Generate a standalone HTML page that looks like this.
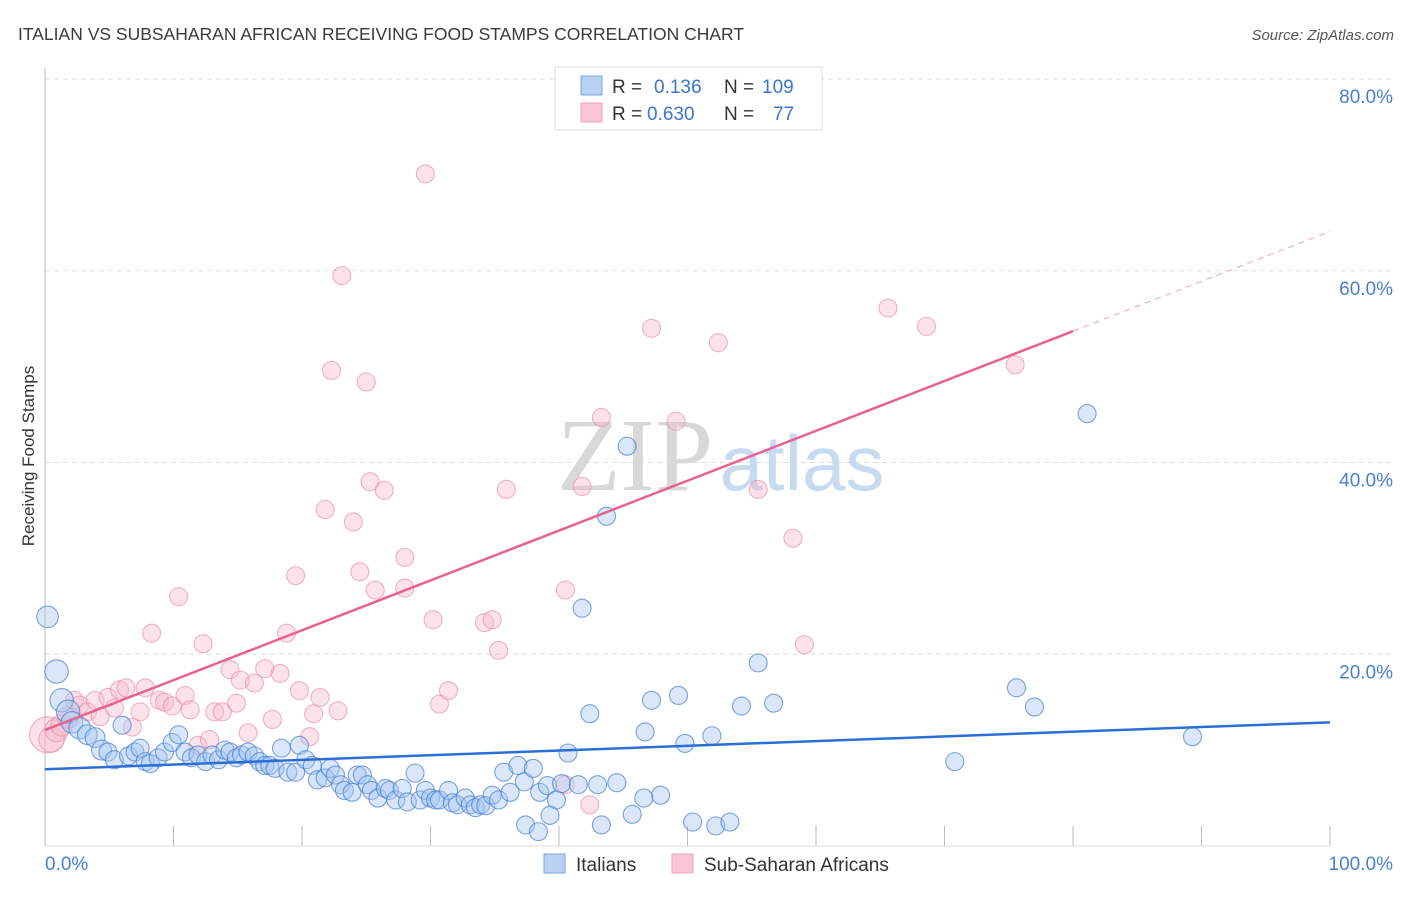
<!DOCTYPE html>
<html><head><meta charset="utf-8"><style>
body{margin:0;background:#fff;font-family:"Liberation Sans",sans-serif;}
svg text{font-family:"Liberation Sans",sans-serif;}
</style></head><body>
<svg id="chart" width="1406" height="892" xmlns="http://www.w3.org/2000/svg">
<text x="18" y="40" font-size="17.5" fill="#3a3a3a">ITALIAN VS SUBSAHARAN AFRICAN RECEIVING FOOD STAMPS CORRELATION CHART</text>
<text x="1394" y="40" font-size="15" fill="#555" font-style="italic" text-anchor="end">Source: ZipAtlas.com</text>
<text x="34" y="456" font-size="17" fill="#333" text-anchor="middle" transform="rotate(-90 34 456)">Receiving Food Stamps</text>
<g id="grid"></g>
<g>
<text x="635" y="490" font-size="104" fill="#d8d8d8" text-anchor="middle" style="font-family:'Liberation Serif',serif">ZIP</text>
<text x="802" y="490" font-size="78" fill="#c6daf0" text-anchor="middle">atlas</text>
</g>
<g id="points"></g>
<g id="lines"></g>
<g>
<rect x="555" y="67" width="267" height="63" fill="#fff" stroke="#ddd"/>
<rect x="581" y="76" width="21" height="19" fill="#b9d2f3" stroke="#7aa5e0"/>
<text x="612" y="93" font-size="19" fill="#333">R =</text>
<text x="654" y="93" font-size="19" fill="#3b74d1">0.136</text>
<text x="724" y="93" font-size="19" fill="#333">N =</text>
<text x="762" y="93" font-size="19" fill="#3b74d1">109</text>
<rect x="581" y="103" width="21" height="19" fill="#f9c6d5" stroke="#eea4ba"/>
<text x="612" y="120" font-size="19" fill="#333">R =</text>
<text x="647" y="120" font-size="19" fill="#3b74d1">0.630</text>
<text x="724" y="120" font-size="19" fill="#333">N =</text>
<text x="773" y="120" font-size="19" fill="#3b74d1">77</text>
</g>
<g>
<rect x="544" y="854" width="21" height="19" fill="#b9d2f3" stroke="#7aa5e0"/>
<text x="576" y="871" font-size="19" fill="#333">Italians</text>
<rect x="672" y="854" width="21" height="19" fill="#f9c6d5" stroke="#eea4ba"/>
<text x="704" y="871" font-size="19" fill="#333">Sub-Saharan Africans</text>
</g>
</svg>
<script>
const yTicks=[20,40,60,80];
const yTickLabels=["20.0%","40.0%","60.0%","80.0%"];
const xTickLabels=["0.0%","100.0%"];
const blueX=[0.2,0.9,1.3,1.8,2.1,2.7,3.3,3.9,4.4,4.9,5.4,6.0,6.5,7.0,7.4,7.8,8.2,8.8,9.3,9.9,10.4,10.9,11.4,11.9,12.5,13.0,13.5,14.0,14.4,14.9,15.3,15.8,16.3,16.7,17.1,17.5,17.9,18.4,18.9,19.5,19.8,20.3,20.8,21.2,21.8,22.2,22.6,23.0,23.3,23.9,24.3,24.7,25.1,25.4,25.9,26.5,26.8,27.3,27.8,28.2,28.8,29.2,29.6,30.0,30.4,30.7,31.4,31.7,32.1,32.7,33.1,33.5,33.9,34.3,34.8,35.3,35.7,36.2,36.8,37.3,38.0,38.5,39.1,39.8,40.2,40.7,41.5,41.8,42.4,43.0,43.3,43.7,44.5,45.3,45.7,46.7,47.2,47.9,49.3,49.8,50.4,51.9,52.2,53.3,54.2,55.5,56.7,70.8,75.6,77.0,81.1,89.3,37.4,38.4,39.3,46.6];
const blueY=[23.9,18.2,15.2,14.0,12.9,12.3,11.6,11.3,10.0,9.8,9.0,12.6,9.4,9.8,10.2,8.8,8.6,9.2,9.8,10.8,11.6,9.8,9.2,9.5,8.8,9.5,9.0,10.0,9.8,9.2,9.5,9.8,9.4,8.8,8.4,8.4,8.1,10.2,7.7,7.7,10.5,9.0,8.4,6.9,7.1,8.1,7.4,6.4,5.8,5.6,7.4,7.4,6.4,5.8,5.0,6.0,5.8,4.8,6.0,4.6,7.6,4.8,5.8,5.0,4.8,4.8,5.8,4.5,4.3,5.0,4.3,4.0,4.3,4.2,5.3,4.8,7.7,5.6,8.4,6.7,8.1,5.6,6.3,4.8,6.5,9.7,6.4,24.8,13.8,6.4,2.2,34.4,6.6,41.7,3.3,11.9,15.2,5.3,15.7,10.7,2.5,11.5,2.1,2.5,14.6,19.1,14.9,8.8,16.5,14.5,45.1,11.4,2.2,1.5,3.2,5.0];
const pinkX=[0.2,0.5,0.9,1.3,1.8,2.3,2.7,3.3,3.9,4.3,4.9,5.4,5.8,6.3,6.8,7.4,7.8,8.3,8.9,9.3,9.9,10.4,10.9,11.3,11.9,12.3,12.8,13.2,13.8,14.4,14.9,15.2,15.8,16.3,17.1,17.7,18.3,18.8,19.5,19.8,20.6,20.9,21.4,21.8,22.3,22.8,23.1,24.0,24.5,25.0,25.3,25.7,26.4,28.0,28.0,29.6,30.2,30.7,31.4,34.2,34.8,35.3,35.9,40.5,41.8,43.3,47.2,49.1,52.4,55.5,58.2,59.1,65.6,68.6,75.5,42.4,40.5];
const pinkY=[11.6,11.1,12.1,12.6,13.4,15.2,14.7,14.0,15.2,13.5,15.5,14.4,16.3,16.5,12.4,14.0,16.5,22.2,15.2,15.0,14.6,26.0,15.7,14.2,10.5,21.1,11.1,14.0,14.0,18.4,14.9,17.3,11.8,17.0,18.5,13.2,18.0,22.2,28.2,16.2,11.4,13.8,15.5,35.1,49.6,14.1,59.5,33.8,28.6,48.4,38.0,26.7,37.1,30.1,26.9,70.1,23.6,14.8,16.2,23.3,23.6,20.4,37.2,26.7,37.5,44.7,54.0,44.3,52.5,37.2,32.1,21.0,56.1,54.2,50.2,4.3,6.4];
const blueSize=[1.2,1.3,1.3,1.3,1.2,1.2,1.1,1.1,1.1];
const pinkSize=[2.0,1.4,1.3,1.2,1.2];
const blueTrend=[8.0,12.9];
const pinkTrend=[12.1,64.1];
const pinkSolidEnd=80;

const X0=45,X1=1330,Y0=846,Y80=79;
const xs=v=>X0+(X1-X0)*v/100;
const ys=v=>Y0-(Y0-Y80)*v/80;
const NS="http://www.w3.org/2000/svg";
function mk(tag,attrs,parent){const e=document.createElementNS(NS,tag);for(const k in attrs)e.setAttribute(k,attrs[k]);parent.appendChild(e);return e;}
const grid=document.getElementById('grid');
yTicks.forEach((t,i)=>{
  const l=mk('line',{x1:X0,x2:1393,y1:ys(t),y2:ys(t),stroke:'#ddd','stroke-dasharray':'5,4'},grid);
  
  
  const tx=mk('text',{x:1393,y:ys(t)+24,'font-size':19,fill:'#4a7fd0','text-anchor':'end'},grid);
  tx.textContent=yTickLabels[i];
  
  
});
const ax=mk('line',{x1:X0,x2:X0,y1:68,y2:Y0,stroke:'#bbb'},grid);


const bx=mk('line',{x1:X0,x2:X1,y1:Y0,y2:Y0,stroke:'#ddd'},grid);


for(let i=1;i<=10;i++){
  const t=mk('line',{x1:xs(i*10),x2:xs(i*10),y1:Y0-20,y2:Y0,stroke:'#bbb'},grid);
  
  
}
const xl0=mk('text',{x:45,y:870,'font-size':19,fill:'#4a7fd0'},grid);
xl0.textContent=xTickLabels[0];


const xl1=mk('text',{x:1393,y:870,'font-size':19,fill:'#4a7fd0','text-anchor':'end'},grid);
xl1.textContent=xTickLabels[1];



const pts=document.getElementById('points');
pinkX.forEach((v,i)=>{
  const c=mk('circle',{cx:xs(v),cy:ys(pinkY[i]),r:9*(pinkSize[i]||1),fill:'rgba(248,185,205,0.4)',stroke:'rgba(232,140,168,0.65)','stroke-width':1.1},pts);
  
  
});
blueX.forEach((v,i)=>{
  const c=mk('circle',{cx:xs(v),cy:ys(blueY[i]),r:9*(blueSize[i]||1),fill:'rgba(165,198,240,0.42)',stroke:'rgba(70,125,210,0.7)','stroke-width':1.1},pts);
  
  
});
const ln=document.getElementById('lines');
const bl=mk('line',{x1:xs(0),y1:ys(blueTrend[0]),x2:xs(100),y2:ys(blueTrend[1]),stroke:'#2a6fd6','stroke-width':2.5},ln);


const pv=x=>pinkTrend[0]+(pinkTrend[1]-pinkTrend[0])*x/100;
const pl=mk('line',{x1:xs(0),y1:ys(pv(0)),x2:xs(pinkSolidEnd),y2:ys(pv(pinkSolidEnd)),stroke:'#e8628f','stroke-width':2.5},ln);


const pd=mk('line',{x1:xs(pinkSolidEnd),y1:ys(pv(pinkSolidEnd)),x2:xs(100),y2:ys(pv(100)),stroke:'#f0a0b8','stroke-width':1,'stroke-dasharray':'6,5'},ln);


</script>
</body></html>
